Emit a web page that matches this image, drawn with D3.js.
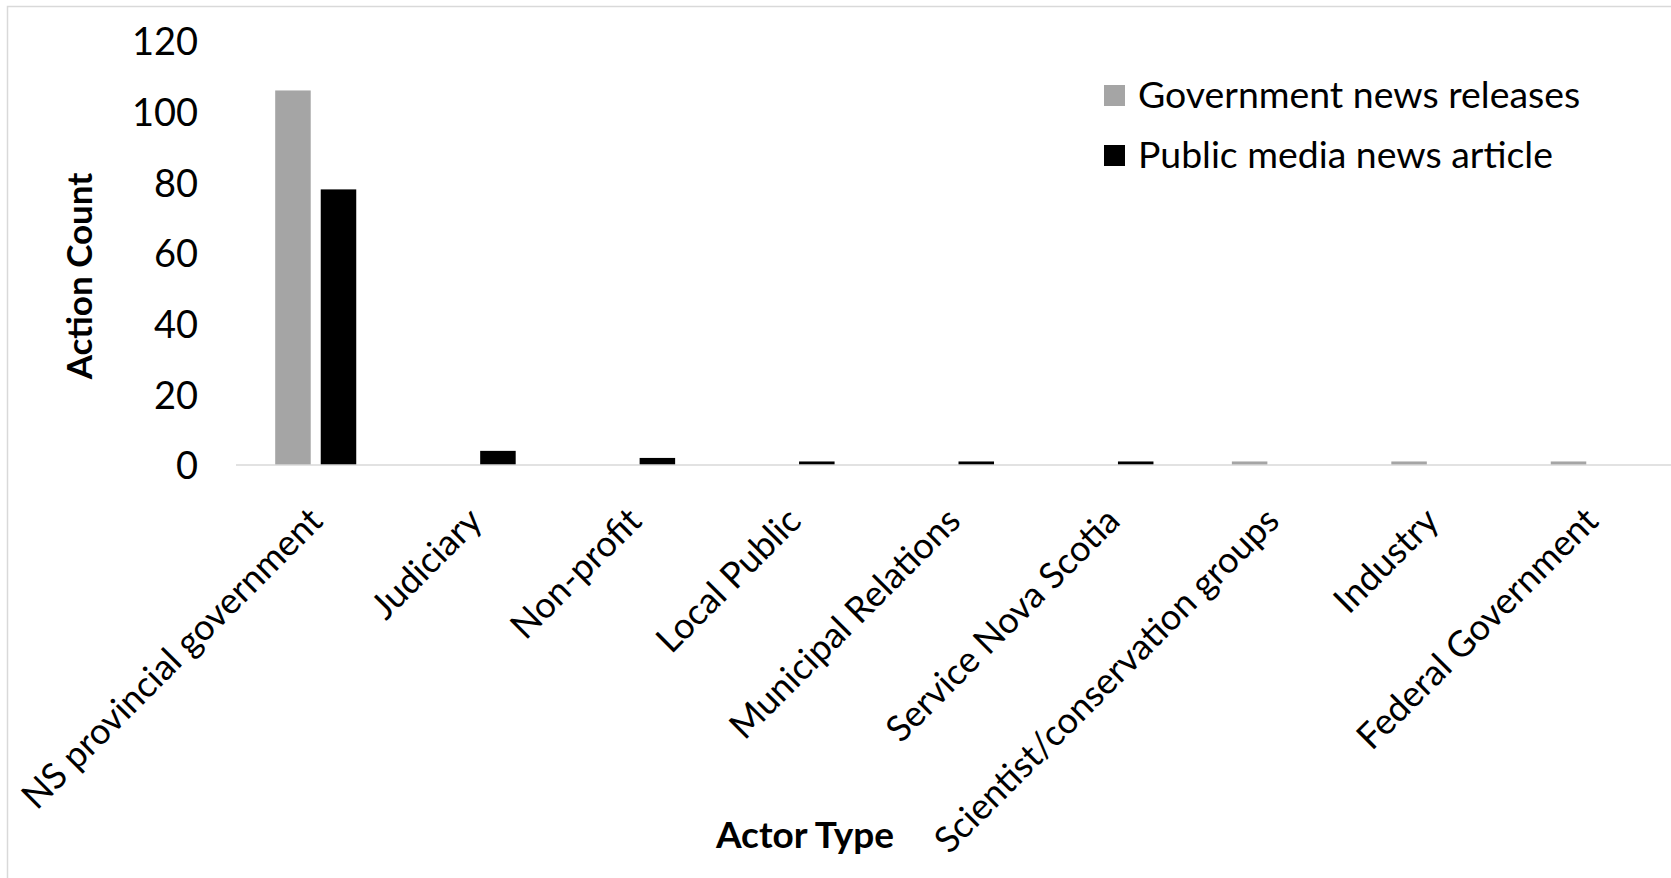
<!DOCTYPE html>
<html>
<head>
<meta charset="utf-8">
<script src="https://cdn.jsdelivr.net/npm/d3@7"></script>
<style>
  html, body { margin: 0; padding: 0; background: #fff; }
  svg { display: block; }
  text { font-family: Lato, "Open Sans", sans-serif; fill: #000; }
</style>
</head>
<body>
<svg id="chart" width="1671" height="878"></svg>
<script>
// Actor types on the horizontal axis
const categories = [
  "NS provincial government",
  "Judiciary",
  "Non-profit",
  "Local Public",
  "Municipal Relations",
  "Service Nova Scotia",
  "Scientist/conservation groups",
  "Industry",
  "Federal Government"
];

// Series names and their action counts per actor type
const seriesNames = ["Government news releases", "Public media news article"];
const governmentReleases = [106, 0, 0, 0, 0, 0, 1, 1, 1];
const publicMediaArticles = [78, 4, 2, 1, 1, 1, 0, 0, 0];
const seriesColors = ["#a5a5a5", "#000000"];

const yTicks = [0, 20, 40, 60, 80, 100, 120];

const svg = d3.select("#chart");
const W = 1671, H = 878;

// chart-area frame (top and left edges)
svg.append("path")
  .attr("d", `M7.5,${H} V6.5 H${W}`)
  .attr("fill", "none")
  .attr("stroke", "#d9d9d9")
  .attr("stroke-width", 1.5);

const plotLeft = 236, plotRight = 1671;
const baseY = 465, topY = 41;

const x = d3.scaleBand().domain(categories).range([plotLeft, plotRight]).paddingInner(0).paddingOuter(0);
const xSub = d3.scaleBand().domain(seriesNames).range([0, x.bandwidth()]).paddingInner(0.22).paddingOuter(0.861);
const y = d3.scaleLinear().domain([0, 120]).range([baseY, topY]);

const rows = categories.map((c, i) => ({
  category: c,
  values: [governmentReleases[i], publicMediaArticles[i]]
}));

// bars
const groups = svg.append("g").selectAll("g")
  .data(rows).join("g")
  .attr("transform", d => `translate(${x(d.category)},0)`);

groups.selectAll("rect")
  .data(d => d.values.map((v, k) => ({ v, k })))
  .join("rect")
  .filter(d => d.v > 0)
  .attr("x", d => xSub(seriesNames[d.k]))
  .attr("width", xSub.bandwidth())
  .attr("y", d => y(d.v))
  .attr("height", d => y(0) - y(d.v))
  .attr("fill", d => seriesColors[d.k]);

// category axis line
svg.append("line")
  .attr("x1", plotLeft).attr("x2", plotRight)
  .attr("y1", baseY).attr("y2", baseY)
  .attr("stroke", "#d9d9d9")
  .attr("stroke-width", 1.5);

// value axis labels (no axis line)
const yAxis = d3.axisLeft(y).tickValues(yTicks).tickSize(0).tickPadding(0);
const yg = svg.append("g").attr("transform", "translate(198,0)").call(yAxis);
yg.select(".domain").remove();
yg.selectAll("text")
  .attr("font-family", "Lato, 'Open Sans', sans-serif")
  .attr("font-size", 38)
  .attr("dy", "0.36em")
  .attr("x", 0)
  .style("text-anchor", "end");

// category labels, rotated 45 degrees
const xAxis = d3.axisBottom(x).tickSize(0).tickPadding(0);
const xg = svg.append("g").attr("transform", `translate(0,${baseY})`).call(xAxis);
xg.select(".domain").remove();
xg.selectAll(".tick text")
  .attr("font-family", "Lato, 'Open Sans', sans-serif")
  .attr("font-size", 36)
  .attr("y", 0).attr("dy", 0)
  .style("text-anchor", "end")
  .attr("transform", "translate(9,58) rotate(-45)");

// axis titles
svg.append("text")
  .attr("transform", "translate(92,276) rotate(-90)")
  .attr("text-anchor", "middle")
  .attr("font-size", 35)
  .attr("font-weight", 700)
  .text("Action Count");

svg.append("text")
  .attr("x", 805).attr("y", 848)
  .attr("text-anchor", "middle")
  .attr("font-size", 37)
  .attr("font-weight", 700)
  .text("Actor Type");

// legend
const legend = svg.append("g").selectAll("g")
  .data(seriesNames).join("g")
  .attr("transform", (d, i) => `translate(1104,${108 + i * 60})`);
legend.append("rect")
  .attr("x", 0).attr("y", -23)
  .attr("width", 21).attr("height", 21)
  .attr("fill", (d, i) => seriesColors[i]);
legend.append("text")
  .attr("x", 34).attr("y", 0)
  .attr("font-size", 37.4)
  .text(d => d);
</script>
</body>
</html>
